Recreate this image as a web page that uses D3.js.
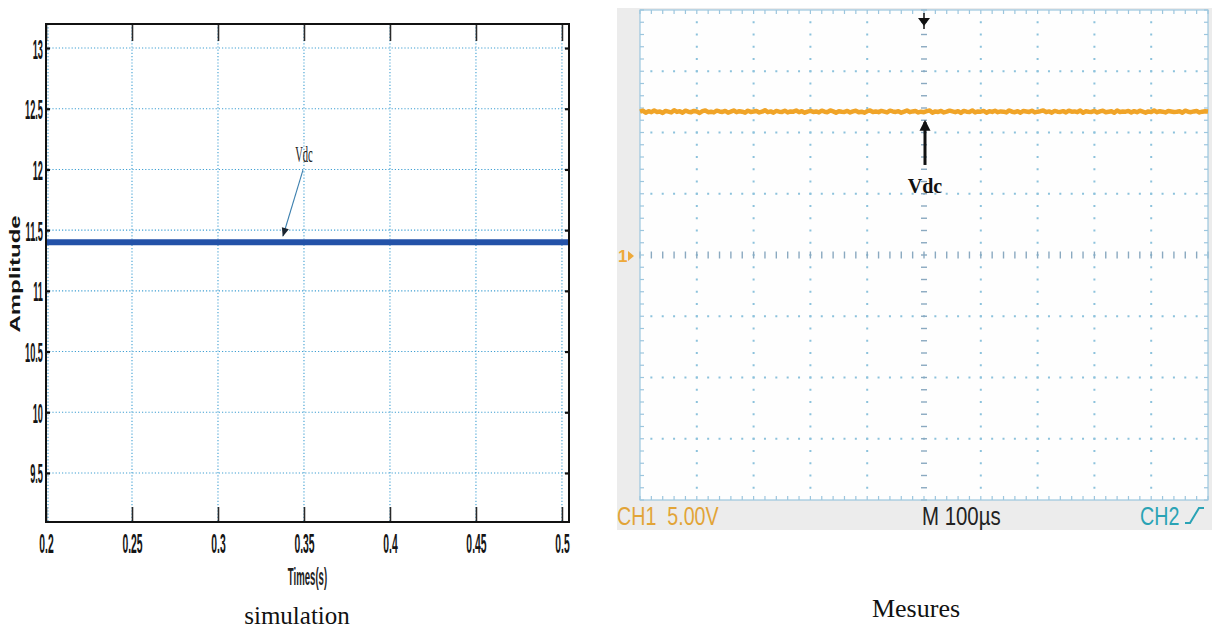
<!DOCTYPE html>
<html><head><meta charset="utf-8">
<script src="https://cdn.jsdelivr.net/npm/d3@7"></script>
<style>body{margin:0;background:#fff}svg{display:block}</style>
</head><body>
<svg id="c" width="1212" height="632"></svg>
<script>
// ================= DATA =================
// simulation panel
const simTimeTicks = [0.2, 0.25, 0.3, 0.35, 0.4, 0.45, 0.5];
const simTimeTickLabels = ["0.2", "0.25", "0.3", "0.35", "0.4", "0.45", "0.5"];
const simAmpTicks = [9.5, 10, 10.5, 11, 11.5, 12, 12.5, 13];
const simAmpTickLabels = ["9.5", "10", "10.5", "11", "11.5", "12", "12.5", "13"];
const simXDomain = [0.2, 0.5041];
const simYDomain = [9.096, 13.198];
const simTime = [0.2, 0.25, 0.3, 0.35, 0.4, 0.45, 0.5, 0.5041];
const simVdc  = [11.4, 11.4, 11.4, 11.4, 11.4, 11.4, 11.4, 11.4];
const simAnnot = { label: "Vdc", textT: 0.3494, textV: 12.06, tailT: 0.3494, tailV: 11.995, headT: 0.3378, headV: 11.452 };
const simXLabel = "Times(s)";
const simYLabel = "Amplitude";

// measurement (oscilloscope) panel: time in µs, voltage in V (5 V/div)
const scopeDivTime = [0, 100, 200, 300, 400, 500, 600, 700, 800, 900, 1000];
const scopeDivVolt = [-20, -15, -10, -5, 0, 5, 10, 15, 20];
const scopeTime = d3.range(0, 1001, 5);
const scopeVdc = [
 11.70,11.78,11.62,11.74,11.66,11.80,11.68,11.72,11.60,11.76,
 11.70,11.64,11.82,11.68,11.74,11.62,11.78,11.70,11.66,11.76,
 11.72,11.60,11.74,11.80,11.66,11.70,11.64,11.78,11.72,11.68,
 11.76,11.62,11.70,11.80,11.66,11.74,11.70,11.62,11.78,11.68,
 11.72,11.76,11.64,11.70,11.82,11.66,11.72,11.62,11.76,11.70,
 11.68,11.78,11.64,11.72,11.70,11.80,11.66,11.74,11.62,11.70,
 11.76,11.68,11.72,11.64,11.78,11.70,11.66,11.80,11.72,11.62,
 11.74,11.70,11.68,11.76,11.64,11.72,11.78,11.66,11.70,11.62,
 11.74,11.80,11.68,11.72,11.66,11.76,11.70,11.64,11.78,11.72,
 11.68,11.74,11.62,11.70,11.80,11.66,11.72,11.76,11.64,11.70,
 11.66,11.74,11.80,11.62,11.72,11.68,11.76,11.64,11.70,11.78,
 11.72,11.66,11.74,11.60,11.76,11.70,11.68,11.80,11.64,11.72,
 11.70,11.76,11.62,11.74,11.68,11.78,11.66,11.72,11.70,11.64,
 11.80,11.70,11.66,11.74,11.62,11.76,11.72,11.68,11.78,11.64,
 11.70,11.74,11.80,11.66,11.72,11.62,11.76,11.70,11.68,11.74,
 11.64,11.78,11.70,11.72,11.66,11.80,11.62,11.74,11.70,11.68,
 11.76,11.64,11.72,11.78,11.66,11.70,11.74,11.62,11.80,11.68,
 11.72,11.70,11.76,11.64,11.74,11.66,11.78,11.70,11.62,11.72,
 11.68,11.80,11.66,11.74,11.70,11.64,11.76,11.72,11.68,11.70,
 11.74,11.62,11.78,11.70,11.66,11.72,11.76,11.64,11.70,11.74,
 11.72];
const scopeAnnot = { label: "Vdc", t: 500, tailV: 7.35, headV: 10.86, textV: 5.06 };
const scopeTexts = ["CH1  5.00V", "M 100µs", "CH2"];
const captions = ["simulation", "Mesures"];

// ================= DRAW =================
const svg = d3.select("#c");

// ---------- left panel ----------
const L = { x0: 46, x1: 569, y0: 24, y1: 522 };
const sx = d3.scaleLinear().domain(simXDomain).range([L.x0, L.x1]);
const sy = d3.scaleLinear().domain(simYDomain).range([L.y1, L.y0]);
const gl = svg.append("g");

// grid
gl.selectAll(".vg").data(simTimeTicks).join("line")
  .attr("x1", d => sx(d) + (d === simTimeTicks[0] ? 2 : 0)).attr("x2", d => sx(d) + (d === simTimeTicks[0] ? 2 : 0))
  .attr("y1", L.y0).attr("y2", L.y1)
  .attr("stroke", "#3f9fd2").attr("stroke-width", 1.1).attr("stroke-dasharray", "1.2,2");
gl.selectAll(".hg").data(simAmpTicks).join("line")
  .attr("x1", L.x0).attr("x2", L.x1).attr("y1", d => sy(d)).attr("y2", d => sy(d))
  .attr("stroke", "#3f9fd2").attr("stroke-width", 1.1).attr("stroke-dasharray", "1.2,2");

// series
gl.append("path")
  .datum(simTime.map((t, i) => [t, simVdc[i]]))
  .attr("d", d3.line().x(d => sx(d[0])).y(d => sy(d[1])))
  .attr("fill", "none").attr("stroke", "#2352a8").attr("stroke-width", 6);

// annotation
const defs = svg.append("defs");
defs.append("marker").attr("id", "ah").attr("viewBox", "0 0 10 10").attr("refX", 9).attr("refY", 5)
  .attr("markerWidth", 10).attr("markerHeight", 9).attr("orient", "auto-start-reverse").attr("markerUnits", "userSpaceOnUse")
  .append("path").attr("d", "M0,1 L10,5 L0,9 Z").attr("fill", "#1a2530");
gl.append("line")
  .attr("x1", sx(simAnnot.tailT)).attr("y1", sy(simAnnot.tailV))
  .attr("x2", sx(simAnnot.headT)).attr("y2", sy(simAnnot.headV))
  .attr("stroke", "#3c7fae").attr("stroke-width", 1.1).attr("marker-end", "url(#ah)");
gl.append("text")
  .attr("transform", `translate(${sx(simAnnot.textT) + 1},${sy(simAnnot.textV)}) scale(0.46,1)`)
  .attr("text-anchor", "middle").attr("font-family", "Liberation Serif").attr("font-size", 23)
  .attr("fill", "#222").text(simAnnot.label);

// axes
function styleTicks(ax) {
  ax.select(".domain").remove();
  ax.selectAll("line").attr("stroke", "#2a2a2a").attr("stroke-width", 1.6);
}
const axB = gl.append("g").attr("transform", `translate(0,${L.y1})`)
  .call(d3.axisBottom(sx).tickValues(simTimeTicks).tickFormat(d => simTimeTickLabels[simTimeTicks.indexOf(d)]).tickSizeInner(-15).tickSizeOuter(0));
styleTicks(axB);
axB.selectAll("text").attr("y", null).attr("dy", null)
  .attr("transform", "translate(0,31) scale(0.37,1)")
  .attr("font-family", "Liberation Sans").attr("font-size", 28).attr("font-weight", "bold").attr("fill", "#151515");
const axT = gl.append("g").attr("transform", `translate(0,${L.y0})`)
  .call(d3.axisTop(sx).tickValues(simTimeTicks).tickFormat("").tickSizeInner(-17).tickSizeOuter(0));
styleTicks(axT);
const axL = gl.append("g").attr("transform", `translate(${L.x0},0)`)
  .call(d3.axisLeft(sy).tickValues(simAmpTicks).tickFormat(d => simAmpTickLabels[simAmpTicks.indexOf(d)]).tickSizeInner(-4).tickSizeOuter(0));
styleTicks(axL);
axL.selectAll("line").attr("stroke-width", 2.2).attr("stroke", "#111");
axL.selectAll("text").attr("x", null).attr("dy", null)
  .attr("transform", "translate(-3,10) scale(0.33,1)")
  .attr("font-family", "Liberation Sans").attr("font-size", 28).attr("font-weight", "bold").attr("fill", "#151515");
const axR = gl.append("g").attr("transform", `translate(${L.x1},0)`)
  .call(d3.axisRight(sy).tickValues(simAmpTicks).tickFormat("").tickSizeInner(-4).tickSizeOuter(0));
styleTicks(axR);
axR.selectAll("line").attr("stroke-width", 2.2).attr("stroke", "#111");

// frame
gl.append("rect").attr("x", L.x0).attr("y", L.y0).attr("width", L.x1 - L.x0).attr("height", L.y1 - L.y0)
  .attr("fill", "none").attr("stroke", "#111").attr("stroke-width", 2);

// axis titles
gl.append("text").attr("transform", `translate(${(L.x0 + L.x1) / 2},585) scale(0.40,1)`)
  .attr("text-anchor", "middle").attr("font-family", "Liberation Sans").attr("font-size", 24).attr("font-weight", "bold")
  .attr("fill", "#222").text(simXLabel);
gl.append("text").attr("transform", `translate(20,${(L.y0 + L.y1) / 2 + 1}) rotate(-90) scale(1,0.62)`)
  .attr("text-anchor", "middle").attr("font-family", "Liberation Sans").attr("font-size", 24).attr("font-weight", "bold")
  .attr("fill", "#151515").text(simYLabel);

// caption
svg.append("text").attr("x", 297).attr("y", 624).attr("text-anchor", "middle")
  .attr("font-family", "Liberation Serif").attr("font-size", 25).attr("fill", "#111").text(captions[0]);

// ---------- right panel (scope) ----------
const R = { x0: 640, x1: 1208, y0: 10, y1: 500 };
const F = { x0: 617, x1: 1212, y0: 8, y1: 530 };
const tx = d3.scaleLinear().domain([0, 1000]).range([R.x0, R.x1]);
const vy = d3.scaleLinear().domain([-20, 20]).range([R.y1, R.y0]);
const gr = svg.append("g");

gr.append("rect").attr("x", F.x0).attr("y", F.y0).attr("width", F.x1 - F.x0).attr("height", F.y1 - F.y0).attr("fill", "#ececec");
gr.append("rect").attr("x", R.x0).attr("y", R.y0).attr("width", R.x1 - R.x0).attr("height", R.y1 - R.y0).attr("fill", "#fefefe");

const minorT = d3.range(0, 1001, 20);
const minorV = d3.range(-20, 20.01, 1);
const dotCol = "#8cc2dc";
// dotted internal grid lines
const innerT = scopeDivTime.filter(t => t !== 0 && t !== 500 && t !== 1000);
const innerV = scopeDivVolt.filter(v => v !== 0 && v !== -20 && v !== 20);
innerT.forEach(t => {
  gr.selectAll(null).data(minorV.filter(v => v > -20 && v < 20)).join("rect")
    .attr("x", tx(t) - 1).attr("y", d => vy(d) - 1).attr("width", 2).attr("height", 2).attr("fill", dotCol);
});
innerV.forEach(v => {
  gr.selectAll(null).data(minorT.filter(t => t > 0 && t < 1000)).join("rect")
    .attr("x", d => tx(d) - 1).attr("y", vy(v) - 1).attr("width", 2).attr("height", 2).attr("fill", dotCol);
});
// center cross with minor ticks
gr.selectAll(null).data(minorV).join("line")
  .attr("x1", tx(500) - 3).attr("x2", tx(500) + 3).attr("y1", d => vy(d)).attr("y2", d => vy(d))
  .attr("stroke", "#8aa9c0").attr("stroke-width", 1.4);
gr.selectAll(null).data(minorT).join("line")
  .attr("x1", d => tx(d)).attr("x2", d => tx(d)).attr("y1", vy(0) - 3.5).attr("y2", vy(0) + 3.5)
  .attr("stroke", "#8aa9c0").attr("stroke-width", 1.4);
// border with inward minor ticks
gr.append("rect").attr("x", R.x0).attr("y", R.y0).attr("width", R.x1 - R.x0).attr("height", R.y1 - R.y0)
  .attr("fill", "none").attr("stroke", "#9cc6de").attr("stroke-width", 1.2);
gr.selectAll(null).data(minorT).join("line").attr("x1", d => tx(d)).attr("x2", d => tx(d))
  .attr("y1", R.y0).attr("y2", R.y0 + 4).attr("stroke", "#9cc6de").attr("stroke-width", 1.2);
gr.selectAll(null).data(minorT).join("line").attr("x1", d => tx(d)).attr("x2", d => tx(d))
  .attr("y1", R.y1 - 4).attr("y2", R.y1).attr("stroke", "#9cc6de").attr("stroke-width", 1.2);
gr.selectAll(null).data(minorV).join("line").attr("y1", d => vy(d)).attr("y2", d => vy(d))
  .attr("x1", R.x0).attr("x2", R.x0 + 4).attr("stroke", "#9cc6de").attr("stroke-width", 1.2);
gr.selectAll(null).data(minorV).join("line").attr("y1", d => vy(d)).attr("y2", d => vy(d))
  .attr("x1", R.x1 - 4).attr("x2", R.x1).attr("stroke", "#9cc6de").attr("stroke-width", 1.2);

// trace
gr.append("path").datum(scopeTime.map((t, i) => [t, scopeVdc[i]]))
  .attr("d", d3.line().x(d => tx(d[0])).y(d => vy(d[1])))
  .attr("fill", "none").attr("stroke", "#f0a428").attr("stroke-width", 4.5).attr("stroke-linejoin", "round");

// ground marker "1▸"
gr.append("text").attr("x", F.x0 + 1).attr("y", vy(0) + 7).attr("font-family", "Liberation Sans").attr("font-weight", "bold")
  .attr("font-size", 17).attr("fill", "#eea93a").text("1");
gr.append("path").attr("d", `M${F.x0 + 11},${vy(0) - 4} L${F.x0 + 17},${vy(0) + 1} L${F.x0 + 11},${vy(0) + 6} Z`).attr("fill", "#eea93a");

// trigger position arrow at top
const tcx = tx(500);
gr.append("line").attr("x1", tcx).attr("x2", tcx).attr("y1", R.y0 + 3).attr("y2", R.y0 + 19).attr("stroke", "#111").attr("stroke-width", 1.5);
gr.append("path").attr("d", `M${tcx - 6},${R.y0 + 8} L${tcx + 6},${R.y0 + 8} L${tcx},${R.y0 + 16} Z`).attr("fill", "#111");

// Vdc annotation arrow
defs.append("marker").attr("id", "ah2").attr("viewBox", "0 0 10 10").attr("refX", 8).attr("refY", 5)
  .attr("markerWidth", 11).attr("markerHeight", 12).attr("orient", "auto").attr("markerUnits", "userSpaceOnUse")
  .append("path").attr("d", "M0,0 L10,5 L0,10 Z").attr("fill", "#111");
gr.append("line").attr("x1", tx(scopeAnnot.t) + 1).attr("x2", tx(scopeAnnot.t) + 1)
  .attr("y1", vy(scopeAnnot.tailV)).attr("y2", vy(scopeAnnot.headV))
  .attr("stroke", "#111").attr("stroke-width", 3).attr("marker-end", "url(#ah2)");
gr.append("text").attr("x", tx(scopeAnnot.t) + 1).attr("y", vy(scopeAnnot.textV)).attr("text-anchor", "middle")
  .attr("font-family", "Liberation Serif").attr("font-weight", "bold").attr("font-size", 20).attr("fill", "#111")
  .text(scopeAnnot.label);

// bottom status texts
gr.append("text").attr("transform", `translate(${F.x0},525) scale(0.82,1.05)`).attr("font-family", "Liberation Sans")
  .attr("font-size", 24).attr("fill", "#e2a437").style("white-space", "pre").text(scopeTexts[0]);
gr.append("text").attr("transform", `translate(922,525) scale(0.85,1.05)`).attr("font-family", "Liberation Sans")
  .attr("font-size", 24).attr("fill", "#222").text(scopeTexts[1]);
gr.append("text").attr("transform", `translate(1140,525) scale(0.82,1.05)`).attr("font-family", "Liberation Sans")
  .attr("font-size", 24).attr("fill", "#2aa3b5").text(scopeTexts[2]);
gr.append("path").attr("d", "M1185,523 L1190,523 L1199,508 L1204,508").attr("fill", "none")
  .attr("stroke", "#2aa3b5").attr("stroke-width", 2);

// caption
svg.append("text").attr("x", 916).attr("y", 617).attr("text-anchor", "middle")
  .attr("font-family", "Liberation Serif").attr("font-size", 26).attr("fill", "#111").text(captions[1]);
</script>
</body></html>
